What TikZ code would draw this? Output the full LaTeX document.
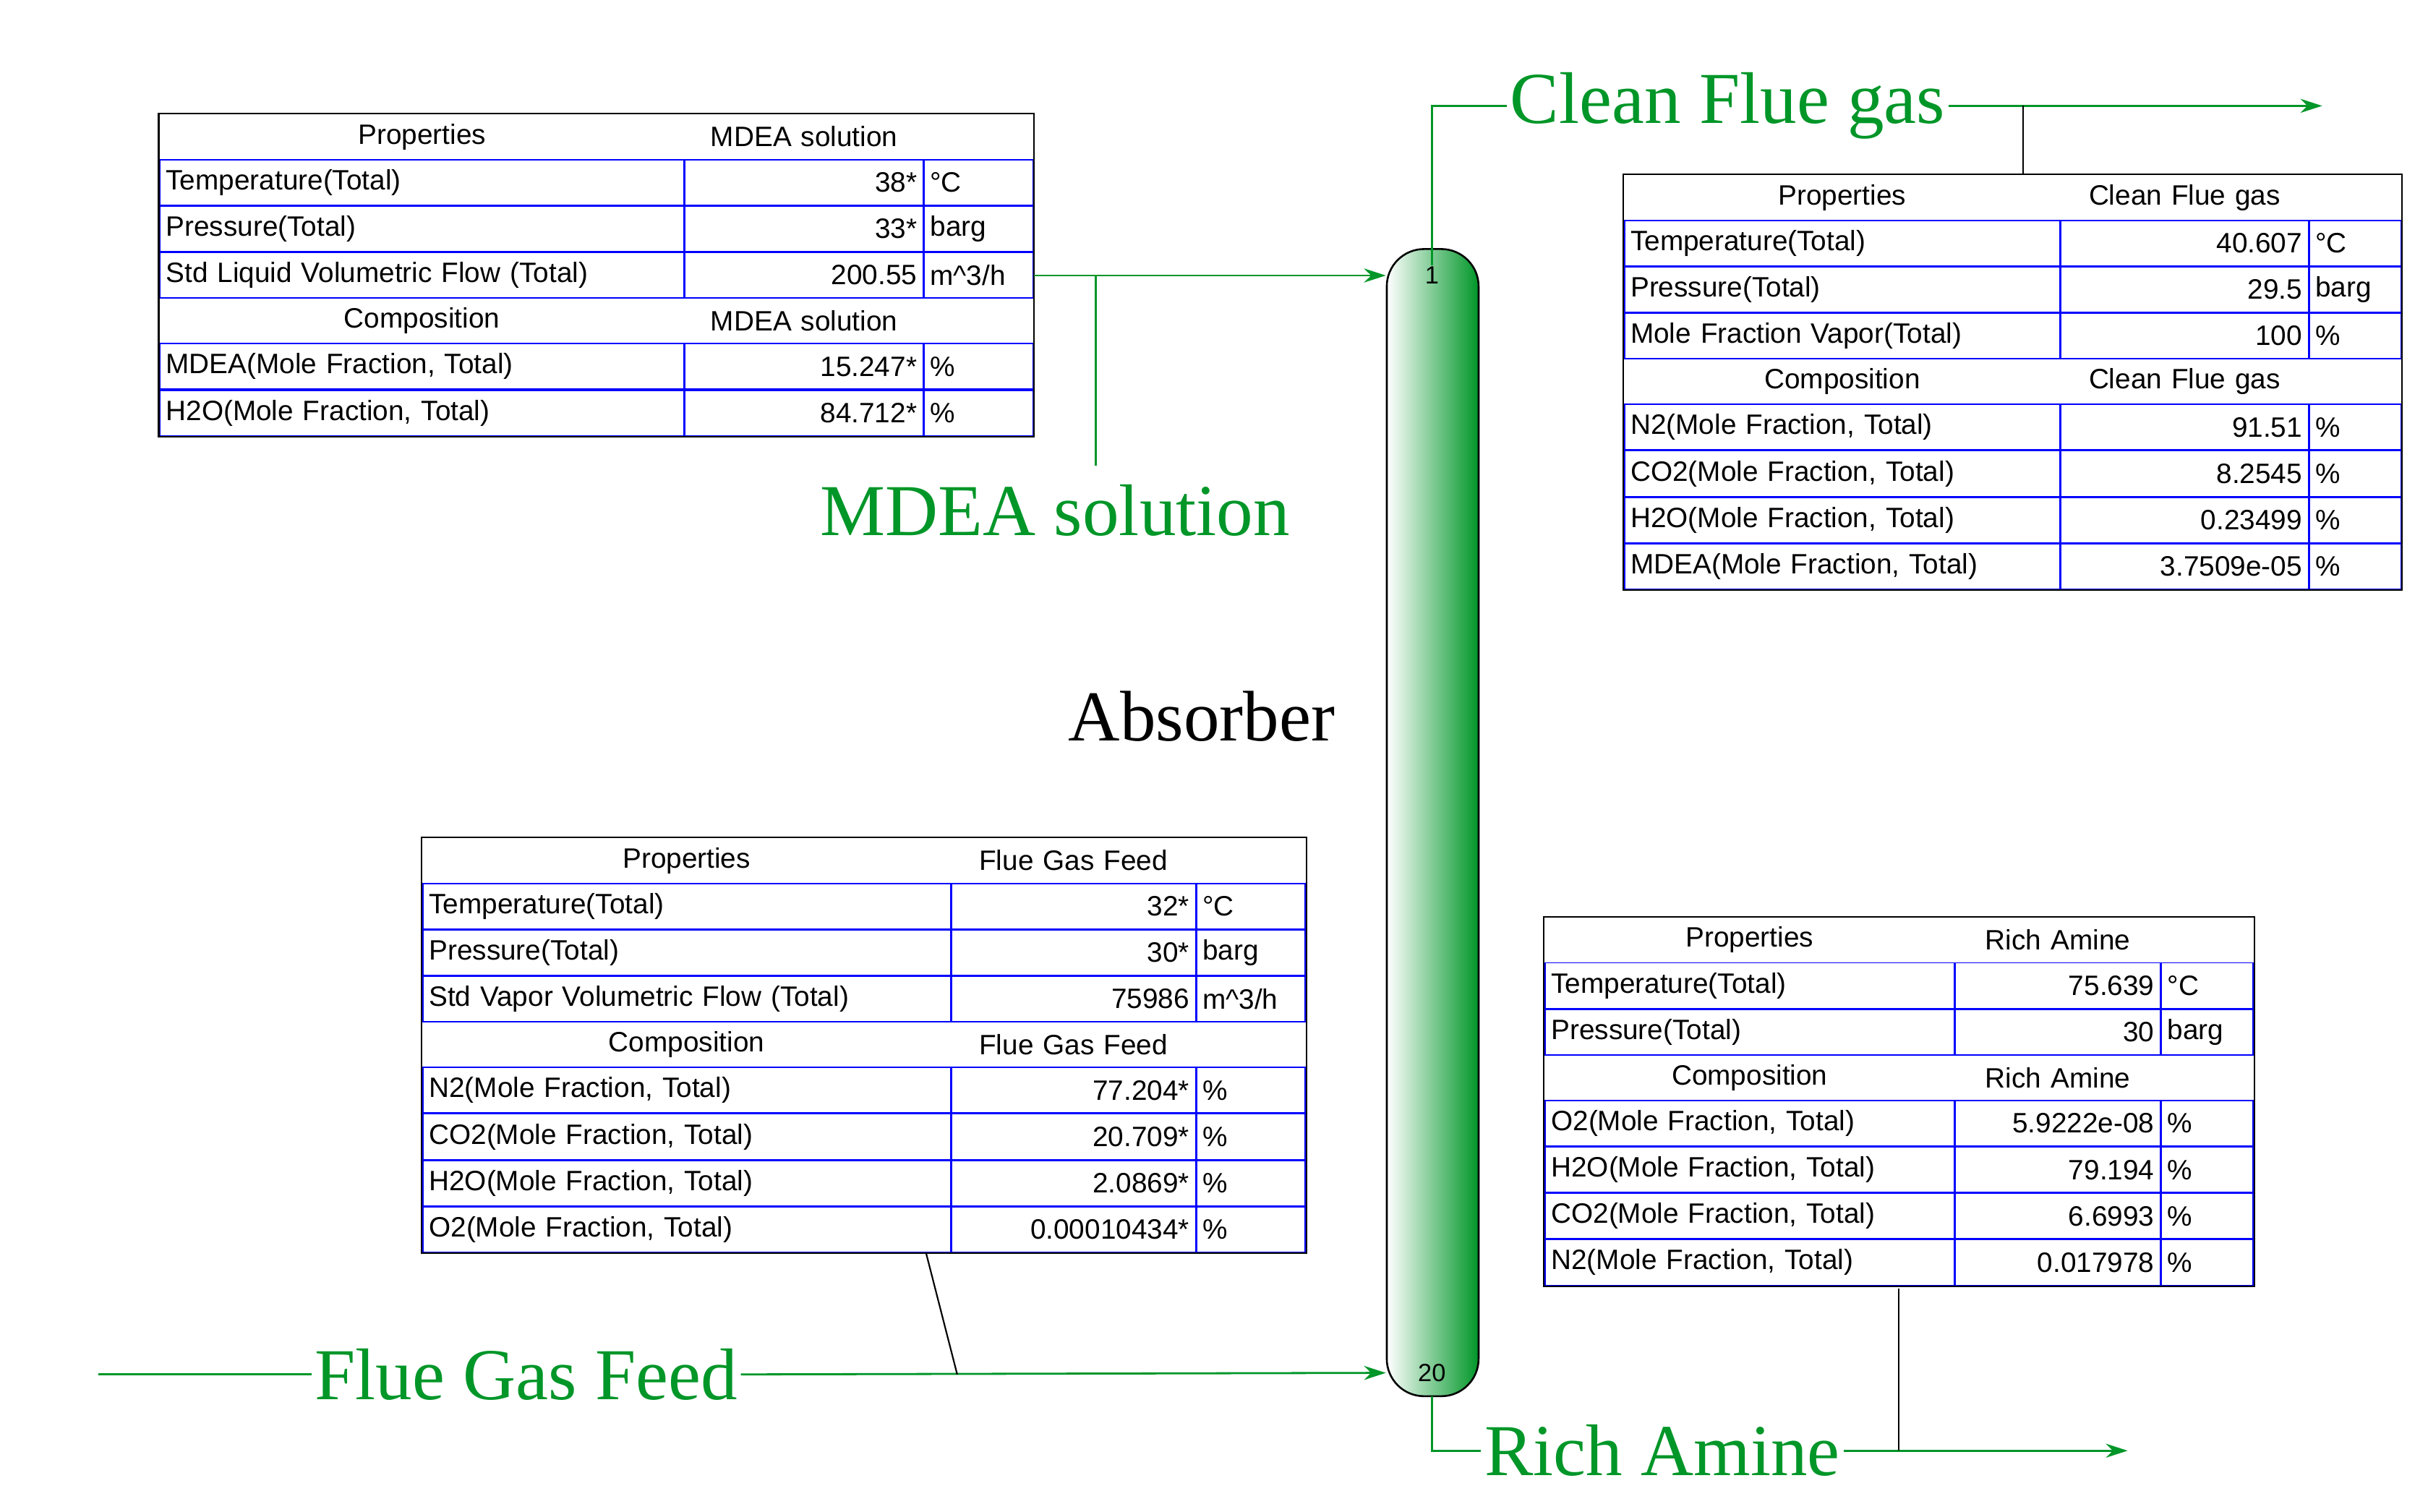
\documentclass[tikz,border=0pt]{standalone}
\usepackage{fontspec}
\setmainfont{Liberation Serif}
\newfontfamily\tabfont{Liberation Sans}
\usetikzlibrary{matrix,positioning,calc,arrows.meta}
\definecolor{flowgreen}{RGB}{0,150,40}
\tikzset{
tbl/.style n args={3}{matrix of nodes, column sep=-\pgflinewidth, row sep=-\pgflinewidth,
  nodes in empty cells, anchor=north west, inner sep=0pt,
  nodes={draw=blue, line width=0.9pt, minimum height=29.3pt, inner xsep=4pt, inner ysep=0pt,
    font=\tabfont\fontsize{18}{20}\selectfont, anchor=center},
  column 1/.style={nodes={text width=#1, align=left}},
  column 2/.style={nodes={text width=#2, align=right}},
  column 3/.style={nodes={text width=#3, align=left}}},
hdr/.style={draw=none, align=center},
stream/.style={flowgreen, line width=1.3pt},
arr/.style={stream, -{Stealth[length=14pt,width=9pt]}},
lbl/.style={flowgreen, font=\fontsize{47}{50}\selectfont, inner sep=2pt},
leader/.style={black, line width=1pt}
}
\begin{document}
\begin{tikzpicture}[x=1pt,y=-1pt]
\useasboundingbox (0,0) rectangle (1560,971);

% absorber column
\node[draw, line width=1.2pt, rounded corners=24pt, minimum width=59pt, minimum height=737pt,
  left color=white, right color=flowgreen, inner sep=0pt] (col) at (920.5,528.5) {};
\node[font=\tabfont\fontsize{16}{18}\selectfont, inner sep=1pt] (top) at (920,177) {1};
\node[font=\tabfont\fontsize{16}{18}\selectfont, inner sep=1pt] (bot) at (920,882) {20};
\node[font=\fontsize{46}{50}\selectfont] (abs) at (772,460) {Absorber};

% tables
\matrix[tbl={329pt}{145pt}{62pt}] (tmdea) at (102,73) {
 |[hdr]| Properties & |[hdr,align=center]| MDEA solution & |[hdr]| \\
 Temperature(Total) & 38* & °C \\
 Pressure(Total) & 33* & barg \\
 Std Liquid Volumetric Flow (Total) & 200.55 & m\textasciicircum 3/h \\
 |[hdr]| Composition & |[hdr,align=center]| MDEA solution & |[hdr]| \\
 MDEA(Mole Fraction, Total) & 15.247* & \% \\
 H2O(Mole Fraction, Total) & 84.712* & \% \\};
\draw[line width=1pt] (tmdea.north west) rectangle (tmdea.south east);

\matrix[tbl={272pt}{151pt}{51pt}] (tclean) at (1043,112) {
 |[hdr]| Properties & |[hdr,align=center]| Clean Flue gas & |[hdr]| \\
 Temperature(Total) & 40.607 & °C \\
 Pressure(Total) & 29.5 & barg \\
 Mole Fraction Vapor(Total) & 100 & \% \\
 |[hdr]| Composition & |[hdr,align=center]| Clean Flue gas & |[hdr]| \\
 N2(Mole Fraction, Total) & 91.51 & \% \\
 CO2(Mole Fraction, Total) & 8.2545 & \% \\
 H2O(Mole Fraction, Total) & 0.23499 & \% \\
 MDEA(Mole Fraction, Total) & 3.7509e-05 & \% \\};
\draw[line width=1pt] (tclean.north west) rectangle (tclean.south east);

\matrix[tbl={331pt}{149pt}{62pt}] (tfeed) at (271,538) {
 |[hdr]| Properties & |[hdr,align=center]| Flue Gas Feed & |[hdr]| \\
 Temperature(Total) & 32* & °C \\
 Pressure(Total) & 30* & barg \\
 Std Vapor Volumetric Flow (Total) & 75986 & m\textasciicircum 3/h \\
 |[hdr]| Composition & |[hdr,align=center]| Flue Gas Feed & |[hdr]| \\
 N2(Mole Fraction, Total) & 77.204* & \% \\
 CO2(Mole Fraction, Total) & 20.709* & \% \\
 H2O(Mole Fraction, Total) & 2.0869* & \% \\
 O2(Mole Fraction, Total) & 0.00010434* & \% \\};
\draw[line width=1pt] (tfeed.north west) rectangle (tfeed.south east);

\matrix[tbl={255pt}{124pt}{51pt}] (trich) at (992,589) {
 |[hdr]| Properties & |[hdr,align=center]| Rich Amine & |[hdr]| \\
 Temperature(Total) & 75.639 & °C \\
 Pressure(Total) & 30 & barg \\
 |[hdr]| Composition & |[hdr,align=center]| Rich Amine & |[hdr]| \\
 O2(Mole Fraction, Total) & 5.9222e-08 & \% \\
 H2O(Mole Fraction, Total) & 79.194 & \% \\
 CO2(Mole Fraction, Total) & 6.6993 & \% \\
 N2(Mole Fraction, Total) & 0.017978 & \% \\};
\draw[line width=1pt] (trich.north west) rectangle (trich.south east);

% MDEA solution
\coordinate (mdeain) at (col.west |- top);
\coordinate (mdeatap) at (704,177);
\node[lbl] (lmdea) at (678,328) {MDEA solution};
\draw[arr] (tmdea.east |- mdeain) -- (mdeain);
\draw[stream] (mdeatap) -- (704,299);

% clean flue gas
\node[lbl] (lclean) at (1110,68) {Clean Flue gas};
\coordinate (cleanend) at (1492,68);
\coordinate (cleantap) at (1300,68);
\draw[stream] (top.north) |- (lclean.west);
\draw[arr] (lclean.east) -- (cleanend);
\draw[leader] (cleantap) -- (cleantap |- tclean.north);

% flue gas feed
\coordinate (feedstart) at (63,883);
\coordinate (feedin) at (col.west |- bot);
\node[lbl] (lfeed) at (338,883) {Flue Gas Feed};
\draw[stream] (feedstart) -- (lfeed.west);
\draw[arr] (lfeed.east) -- (feedin);
\draw[leader] (595,805) -- (615,883);

% rich amine
\node[lbl] (lrich) at (1068,932) {Rich Amine};
\coordinate (richend) at (1367,932);
\draw[stream] (920,897) |- (lrich.west);
\draw[arr] (lrich.east) -- (richend);
\draw[leader] (1220,828) -- (1220,932);
\end{tikzpicture}
\end{document}
